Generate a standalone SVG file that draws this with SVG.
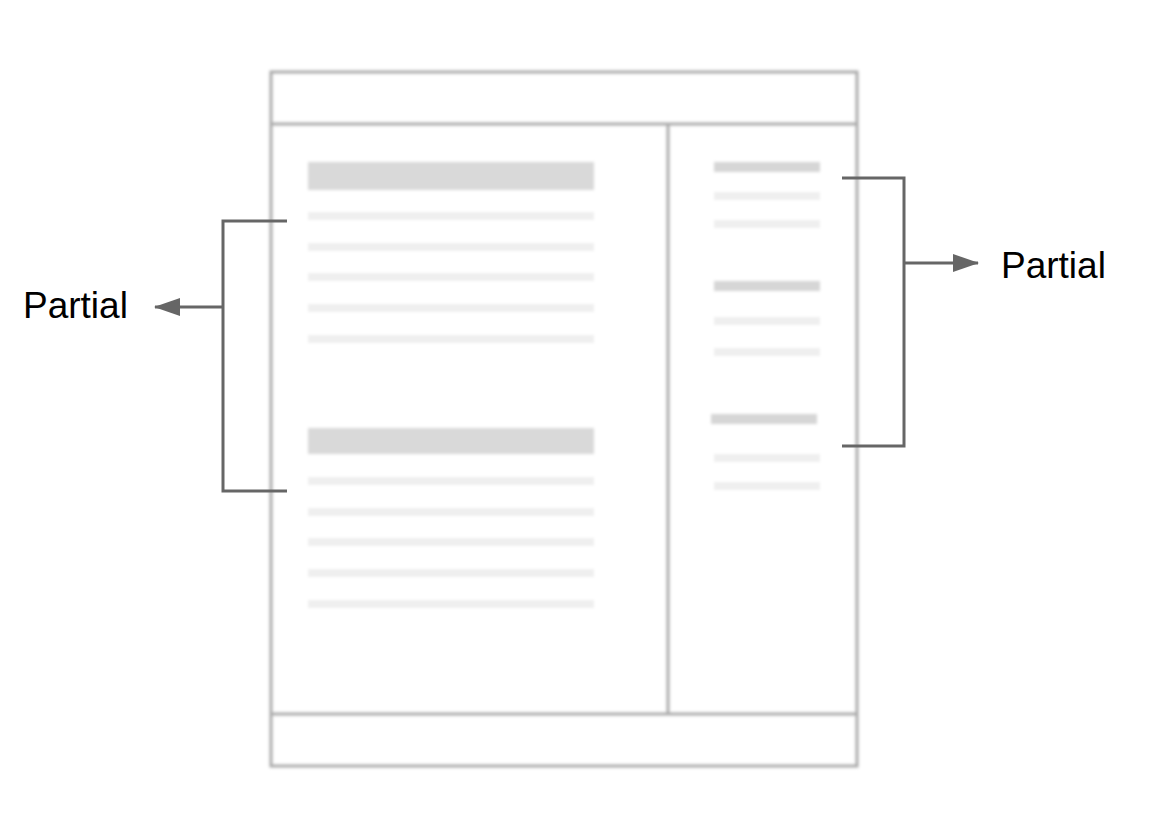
<svg xmlns="http://www.w3.org/2000/svg" width="1152" height="818" viewBox="0 0 1152 818">
<defs>
<filter id="blur" x="-5%" y="-5%" width="110%" height="110%"><feGaussianBlur stdDeviation="1.4"/></filter>
<marker id="arr" viewBox="0 0 26 18" refX="25" refY="9" markerWidth="26" markerHeight="18" markerUnits="userSpaceOnUse" orient="auto"><path d="M0,0 L26,9 L0,18 z" fill="#666"/></marker>
</defs>
<style>
.frame{fill:none;stroke:#aaa;stroke-width:3}
.big{fill:#d9d9d9}
.thin{fill:#efefef}
.rbar{fill:#d6d6d6}
.br{fill:none;stroke:#666;stroke-width:3}
.lbl{font-family:"Liberation Sans",Arial,sans-serif;font-size:37px;fill:#000}
</style>
<rect width="1152" height="818" fill="#fff"/>
<g id="wireframe" filter="url(#blur)">
<rect class="frame" x="271" y="72" width="586" height="694"/>
<line class="frame" x1="271" y1="124" x2="857" y2="124"/>
<line class="frame" x1="271" y1="714" x2="857" y2="714"/>
<line class="frame" x1="668" y1="124" x2="668" y2="714"/>
<rect class="big" x="308" y="162" width="286" height="28"/>
<rect class="thin" x="308" y="212" width="286" height="8"/>
<rect class="thin" x="308" y="243" width="286" height="8"/>
<rect class="thin" x="308" y="273" width="286" height="8"/>
<rect class="thin" x="308" y="304" width="286" height="8"/>
<rect class="thin" x="308" y="335" width="286" height="8"/>
<rect class="big" x="308" y="428" width="286" height="26"/>
<rect class="thin" x="308" y="477" width="286" height="8"/>
<rect class="thin" x="308" y="508" width="286" height="8"/>
<rect class="thin" x="308" y="538" width="286" height="8"/>
<rect class="thin" x="308" y="569" width="286" height="8"/>
<rect class="thin" x="308" y="600" width="286" height="8"/>
<rect class="rbar" x="714" y="162" width="106" height="10"/>
<rect class="thin" x="714" y="192" width="106" height="8"/>
<rect class="thin" x="714" y="220" width="106" height="8"/>
<rect class="rbar" x="714" y="281" width="106" height="10"/>
<rect class="thin" x="714" y="317" width="106" height="8"/>
<rect class="thin" x="714" y="348" width="106" height="8"/>
<rect class="rbar" x="711" y="414" width="106" height="10"/>
<rect class="thin" x="714" y="454" width="106" height="8"/>
<rect class="thin" x="714" y="482" width="106" height="8"/>
</g>
<g id="connectors">
<polyline class="br" points="287,221 223,221 223,491 287,491"/>
<line class="br" x1="223" y1="307" x2="155" y2="307" marker-end="url(#arr)"/>
<polyline class="br" points="842,178 904,178 904,446 842,446"/>
<line class="br" x1="904" y1="263" x2="978" y2="263" marker-end="url(#arr)"/>
</g>
<g id="label-left"><text class="lbl" x="23" y="318">Partial</text></g>
<g id="label-right"><text class="lbl" x="1001" y="278">Partial</text></g>
</svg>
